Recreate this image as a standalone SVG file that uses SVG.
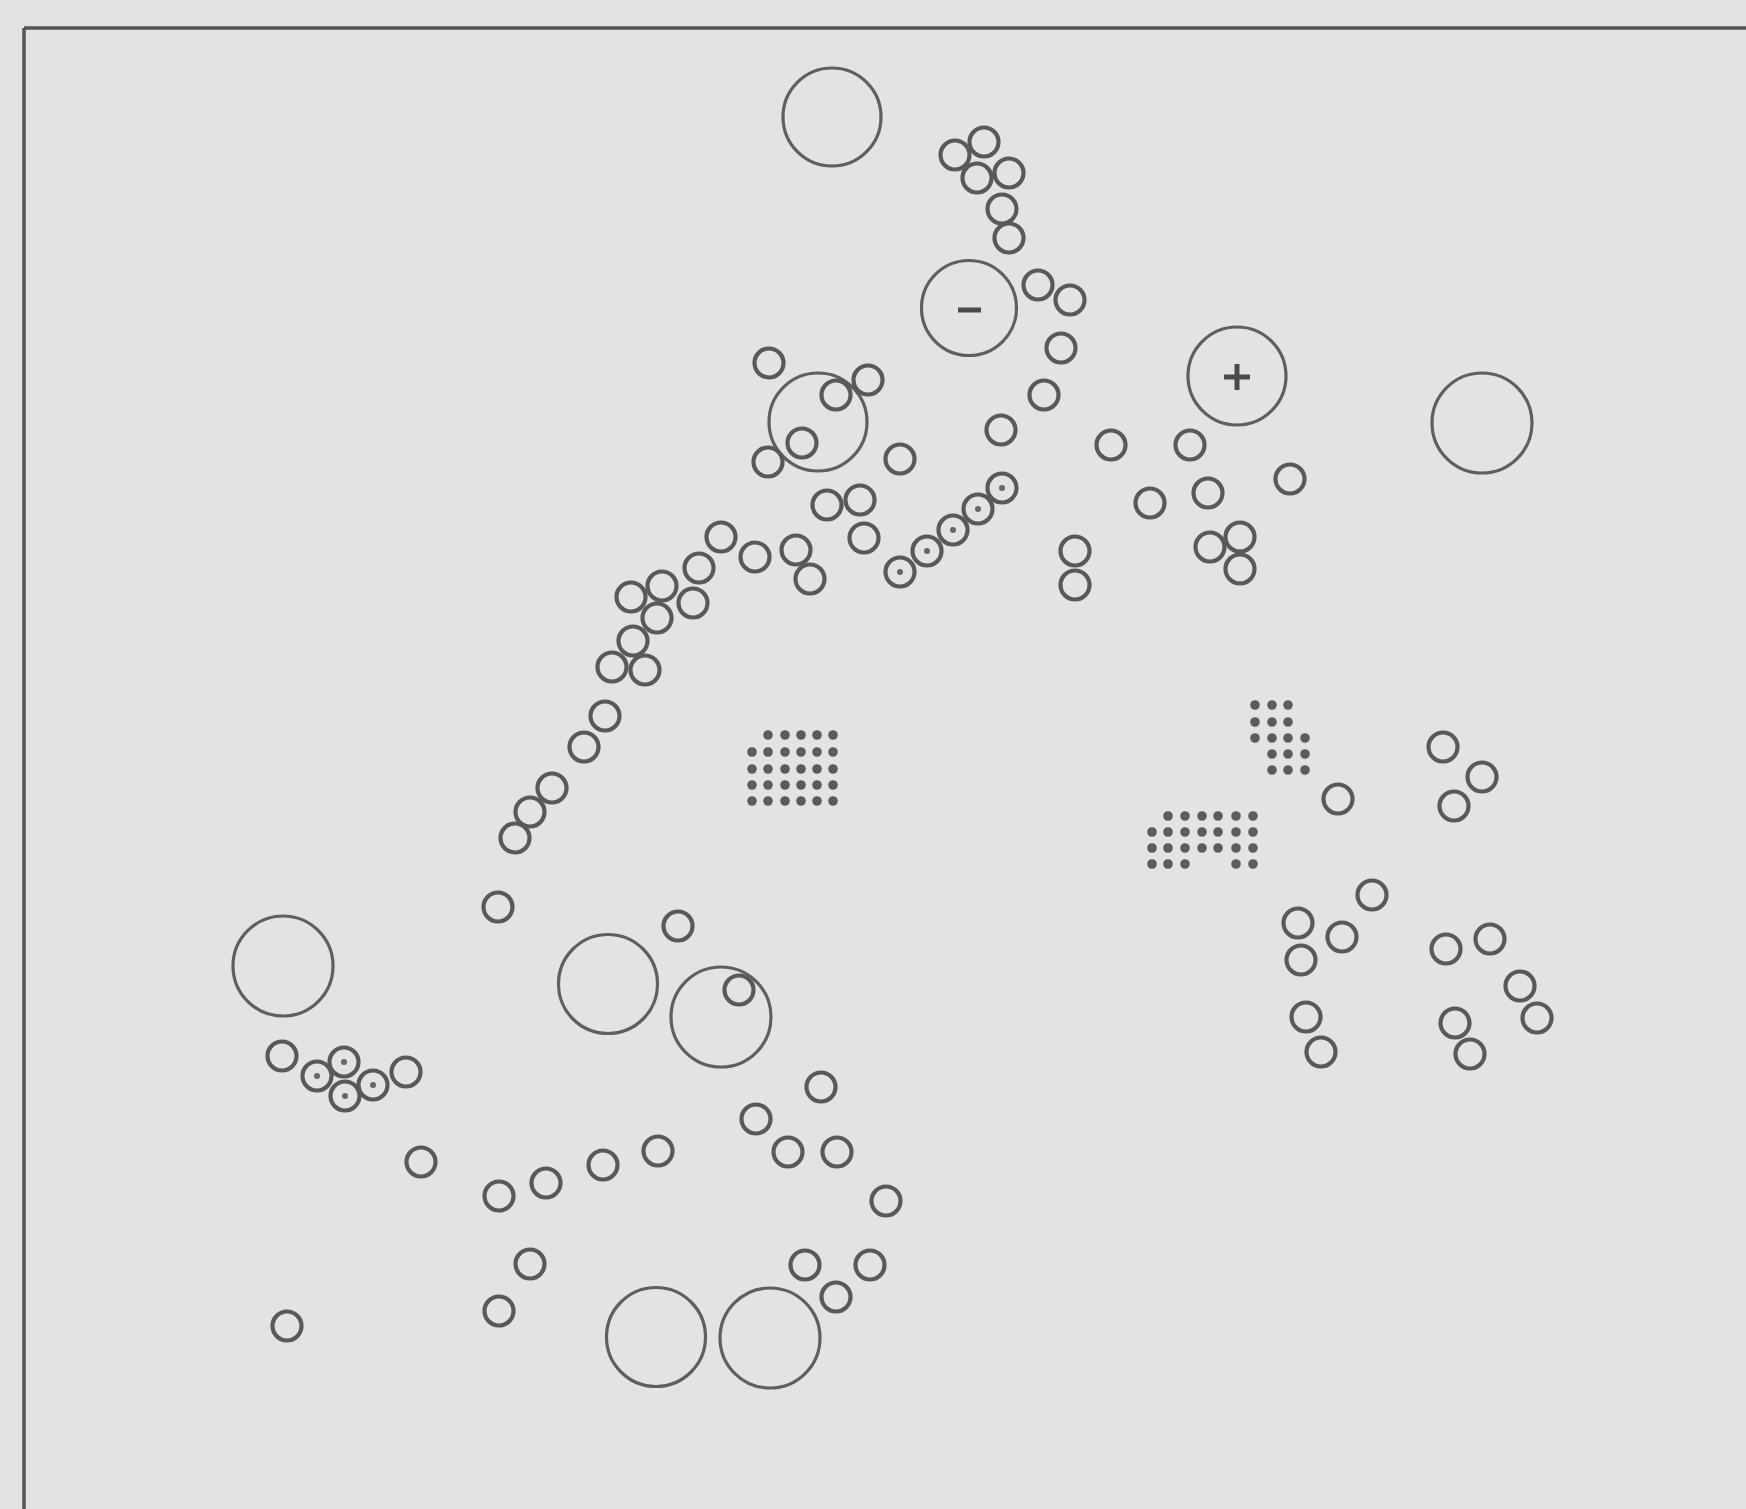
<svg xmlns="http://www.w3.org/2000/svg" xmlns:xlink="http://www.w3.org/1999/xlink" width="1746" height="1509" viewBox="0 0 1746 1509">
<style>
.bg{fill:#e3e3e3}
.frame{stroke:#555;stroke-width:3.5;fill:none}
.big{fill:none;stroke:#5f5f5f;stroke-width:3.2}
.pad{fill:none;stroke:#595959;stroke-width:4.2}
.ctr{fill:#666}
.dot{fill:#5c5c5c}
.sign{stroke:#4a4a4a;stroke-width:5;fill:none}
</style>
<defs>
<g id="p"><circle class="pad" cx="0" cy="0" r="14.5"/></g>
<g id="pd"><circle class="pad" cx="0" cy="0" r="14.5"/><circle class="ctr" cx="0" cy="0" r="3"/></g>
<circle id="d" class="dot" cx="0" cy="0" r="4.8"/>
</defs>
<rect class="bg" x="0" y="0" width="1746" height="1509"/>
<g id="frame">
<line class="frame" x1="24" y1="28" x2="1746" y2="28"/>
<line class="frame" x1="24" y1="28" x2="24" y2="1509"/>
</g>
<g id="connectors"></g>
<g id="big-holes">
<g id="hole-a"><circle class="big" cx="832" cy="117" r="49"/></g>
<g id="hole-minus"><circle class="big" cx="969" cy="308" r="47.5"/><line class="sign" x1="958" y1="310" x2="981" y2="310"/></g>
<g id="hole-c"><circle class="big" cx="818" cy="422" r="49"/></g>
<g id="hole-plus"><circle class="big" cx="1237" cy="376" r="49"/><line class="sign" x1="1224" y1="377" x2="1250" y2="377"/><line class="sign" x1="1237" y1="364" x2="1237" y2="390"/></g>
<g id="hole-e"><circle class="big" cx="1482" cy="423" r="50"/></g>
<g id="hole-f"><circle class="big" cx="283" cy="966" r="50"/></g>
<g id="hole-g"><circle class="big" cx="608" cy="984" r="49.5"/></g>
<g id="hole-h"><circle class="big" cx="721" cy="1017" r="50"/></g>
<g id="hole-i"><circle class="big" cx="656" cy="1337" r="49.5"/></g>
<g id="hole-j"><circle class="big" cx="770" cy="1338" r="50"/></g>
</g>
<g id="pads">
<g id="pad-1"><use xlink:href="#p" x="955" y="155"/></g>
<g id="pad-2"><use xlink:href="#p" x="984" y="142"/></g>
<g id="pad-3"><use xlink:href="#p" x="977" y="178"/></g>
<g id="pad-4"><use xlink:href="#p" x="1009" y="173"/></g>
<g id="pad-5"><use xlink:href="#p" x="1002" y="209"/></g>
<g id="pad-6"><use xlink:href="#p" x="1009" y="238"/></g>
<g id="pad-7"><use xlink:href="#p" x="1038" y="285"/></g>
<g id="pad-8"><use xlink:href="#p" x="1070" y="300"/></g>
<g id="pad-9"><use xlink:href="#p" x="1061" y="348"/></g>
<g id="pad-10"><use xlink:href="#p" x="1044" y="395"/></g>
<g id="pad-11"><use xlink:href="#p" x="1001" y="430"/></g>
<g id="pad-12"><use xlink:href="#p" x="1111" y="445"/></g>
<g id="pad-13"><use xlink:href="#p" x="1190" y="445"/></g>
<g id="pad-14"><use xlink:href="#p" x="1290" y="479"/></g>
<g id="pad-15"><use xlink:href="#p" x="1150" y="503"/></g>
<g id="pad-16"><use xlink:href="#p" x="1208" y="493"/></g>
<g id="pad-17"><use xlink:href="#p" x="1075" y="551"/></g>
<g id="pad-18"><use xlink:href="#p" x="1075" y="585"/></g>
<g id="pad-19"><use xlink:href="#p" x="1210" y="547"/></g>
<g id="pad-20"><use xlink:href="#p" x="1240" y="537"/></g>
<g id="pad-21"><use xlink:href="#p" x="1240" y="569"/></g>
<g id="pad-22"><use xlink:href="#p" x="769" y="363"/></g>
<g id="pad-23"><use xlink:href="#p" x="836" y="395"/></g>
<g id="pad-24"><use xlink:href="#p" x="868" y="380"/></g>
<g id="pad-25"><use xlink:href="#p" x="802" y="443"/></g>
<g id="pad-26"><use xlink:href="#p" x="768" y="462"/></g>
<g id="pad-27"><use xlink:href="#p" x="900" y="459"/></g>
<g id="pad-28"><use xlink:href="#p" x="827" y="505"/></g>
<g id="pad-29"><use xlink:href="#p" x="860" y="500"/></g>
<g id="pad-30"><use xlink:href="#p" x="864" y="538"/></g>
<g id="pad-31"><use xlink:href="#p" x="796" y="550"/></g>
<g id="pad-32"><use xlink:href="#p" x="810" y="579"/></g>
<g id="pad-33"><use xlink:href="#p" x="721" y="537"/></g>
<g id="pad-34"><use xlink:href="#p" x="755" y="557"/></g>
<g id="pad-35"><use xlink:href="#p" x="699" y="568"/></g>
<g id="pad-36"><use xlink:href="#p" x="662" y="586"/></g>
<g id="pad-37"><use xlink:href="#p" x="631" y="597"/></g>
<g id="pad-38"><use xlink:href="#p" x="693" y="603"/></g>
<g id="pad-39"><use xlink:href="#p" x="657" y="618"/></g>
<g id="pad-40"><use xlink:href="#p" x="633" y="641"/></g>
<g id="pad-41"><use xlink:href="#p" x="612" y="667"/></g>
<g id="pad-42"><use xlink:href="#p" x="645" y="670"/></g>
<g id="pad-43"><use xlink:href="#p" x="605" y="716"/></g>
<g id="pad-44"><use xlink:href="#p" x="584" y="747"/></g>
<g id="pad-45"><use xlink:href="#p" x="552" y="788"/></g>
<g id="pad-46"><use xlink:href="#p" x="530" y="812"/></g>
<g id="pad-47"><use xlink:href="#p" x="515" y="838"/></g>
<g id="pad-48"><use xlink:href="#p" x="498" y="907"/></g>
<g id="pad-49"><use xlink:href="#p" x="678" y="926"/></g>
<g id="pad-50"><use xlink:href="#pd" x="900" y="572"/></g>
<g id="pad-51"><use xlink:href="#pd" x="927" y="551"/></g>
<g id="pad-52"><use xlink:href="#pd" x="953" y="530"/></g>
<g id="pad-53"><use xlink:href="#pd" x="978" y="509"/></g>
<g id="pad-54"><use xlink:href="#pd" x="1002" y="488"/></g>
<g id="pad-55"><use xlink:href="#p" x="1338" y="799"/></g>
<g id="pad-56"><use xlink:href="#p" x="1443" y="747"/></g>
<g id="pad-57"><use xlink:href="#p" x="1482" y="777"/></g>
<g id="pad-58"><use xlink:href="#p" x="1454" y="806"/></g>
<g id="pad-59"><use xlink:href="#p" x="1372" y="895"/></g>
<g id="pad-60"><use xlink:href="#p" x="1298" y="923"/></g>
<g id="pad-61"><use xlink:href="#p" x="1342" y="937"/></g>
<g id="pad-62"><use xlink:href="#p" x="1301" y="960"/></g>
<g id="pad-63"><use xlink:href="#p" x="1446" y="949"/></g>
<g id="pad-64"><use xlink:href="#p" x="1490" y="939"/></g>
<g id="pad-65"><use xlink:href="#p" x="1520" y="986"/></g>
<g id="pad-66"><use xlink:href="#p" x="1537" y="1018"/></g>
<g id="pad-67"><use xlink:href="#p" x="1306" y="1017"/></g>
<g id="pad-68"><use xlink:href="#p" x="1321" y="1052"/></g>
<g id="pad-69"><use xlink:href="#p" x="1455" y="1023"/></g>
<g id="pad-70"><use xlink:href="#p" x="1470" y="1054"/></g>
<g id="pad-71"><use xlink:href="#p" x="282" y="1056"/></g>
<g id="pad-72"><use xlink:href="#pd" x="317" y="1076"/></g>
<g id="pad-73"><use xlink:href="#pd" x="344" y="1062"/></g>
<g id="pad-74"><use xlink:href="#pd" x="345" y="1096"/></g>
<g id="pad-75"><use xlink:href="#pd" x="373" y="1085"/></g>
<g id="pad-76"><use xlink:href="#p" x="406" y="1072"/></g>
<g id="pad-77"><use xlink:href="#p" x="739" y="990"/></g>
<g id="pad-78"><use xlink:href="#p" x="421" y="1162"/></g>
<g id="pad-79"><use xlink:href="#p" x="499" y="1196"/></g>
<g id="pad-80"><use xlink:href="#p" x="546" y="1183"/></g>
<g id="pad-81"><use xlink:href="#p" x="603" y="1165"/></g>
<g id="pad-82"><use xlink:href="#p" x="658" y="1151"/></g>
<g id="pad-83"><use xlink:href="#p" x="756" y="1119"/></g>
<g id="pad-84"><use xlink:href="#p" x="788" y="1152"/></g>
<g id="pad-85"><use xlink:href="#p" x="837" y="1152"/></g>
<g id="pad-86"><use xlink:href="#p" x="821" y="1087"/></g>
<g id="pad-87"><use xlink:href="#p" x="886" y="1201"/></g>
<g id="pad-88"><use xlink:href="#p" x="530" y="1264"/></g>
<g id="pad-89"><use xlink:href="#p" x="499" y="1311"/></g>
<g id="pad-90"><use xlink:href="#p" x="287" y="1326"/></g>
<g id="pad-91"><use xlink:href="#p" x="805" y="1265"/></g>
<g id="pad-92"><use xlink:href="#p" x="870" y="1265"/></g>
<g id="pad-93"><use xlink:href="#p" x="836" y="1297"/></g>
</g>
<g id="grid-left">
<use xlink:href="#d" x="768" y="735"/><use xlink:href="#d" x="785" y="735"/><use xlink:href="#d" x="801" y="735"/><use xlink:href="#d" x="817" y="735"/><use xlink:href="#d" x="833" y="735"/>
<use xlink:href="#d" x="752" y="752"/><use xlink:href="#d" x="768" y="752"/><use xlink:href="#d" x="785" y="752"/><use xlink:href="#d" x="801" y="752"/><use xlink:href="#d" x="817" y="752"/><use xlink:href="#d" x="833" y="752"/>
<use xlink:href="#d" x="752" y="769"/><use xlink:href="#d" x="768" y="769"/><use xlink:href="#d" x="785" y="769"/><use xlink:href="#d" x="801" y="769"/><use xlink:href="#d" x="817" y="769"/><use xlink:href="#d" x="833" y="769"/>
<use xlink:href="#d" x="752" y="785"/><use xlink:href="#d" x="768" y="785"/><use xlink:href="#d" x="785" y="785"/><use xlink:href="#d" x="801" y="785"/><use xlink:href="#d" x="817" y="785"/><use xlink:href="#d" x="833" y="785"/>
<use xlink:href="#d" x="752" y="801"/><use xlink:href="#d" x="768" y="801"/><use xlink:href="#d" x="785" y="801"/><use xlink:href="#d" x="801" y="801"/><use xlink:href="#d" x="817" y="801"/><use xlink:href="#d" x="833" y="801"/>
</g>
<g id="grid-upper-right">
<use xlink:href="#d" x="1255" y="705"/><use xlink:href="#d" x="1272" y="705"/><use xlink:href="#d" x="1288" y="705"/>
<use xlink:href="#d" x="1255" y="722"/><use xlink:href="#d" x="1272" y="722"/><use xlink:href="#d" x="1288" y="722"/>
<use xlink:href="#d" x="1255" y="738"/><use xlink:href="#d" x="1272" y="738"/><use xlink:href="#d" x="1288" y="738"/><use xlink:href="#d" x="1305" y="738"/>
<use xlink:href="#d" x="1272" y="754"/><use xlink:href="#d" x="1288" y="754"/><use xlink:href="#d" x="1305" y="754"/>
<use xlink:href="#d" x="1272" y="770"/><use xlink:href="#d" x="1288" y="770"/><use xlink:href="#d" x="1305" y="770"/>
</g>
<g id="grid-lower-right">
<use xlink:href="#d" x="1168" y="816"/><use xlink:href="#d" x="1185" y="816"/><use xlink:href="#d" x="1202" y="816"/><use xlink:href="#d" x="1218" y="816"/><use xlink:href="#d" x="1236" y="816"/><use xlink:href="#d" x="1253" y="816"/>
<use xlink:href="#d" x="1152" y="832"/><use xlink:href="#d" x="1168" y="832"/><use xlink:href="#d" x="1185" y="832"/><use xlink:href="#d" x="1202" y="832"/><use xlink:href="#d" x="1218" y="832"/><use xlink:href="#d" x="1236" y="832"/><use xlink:href="#d" x="1253" y="832"/>
<use xlink:href="#d" x="1152" y="848"/><use xlink:href="#d" x="1168" y="848"/><use xlink:href="#d" x="1185" y="848"/><use xlink:href="#d" x="1202" y="848"/><use xlink:href="#d" x="1218" y="848"/><use xlink:href="#d" x="1236" y="848"/><use xlink:href="#d" x="1253" y="848"/>
<use xlink:href="#d" x="1152" y="864"/><use xlink:href="#d" x="1168" y="864"/><use xlink:href="#d" x="1185" y="864"/><use xlink:href="#d" x="1236" y="864"/><use xlink:href="#d" x="1253" y="864"/>
</g>
</svg>
